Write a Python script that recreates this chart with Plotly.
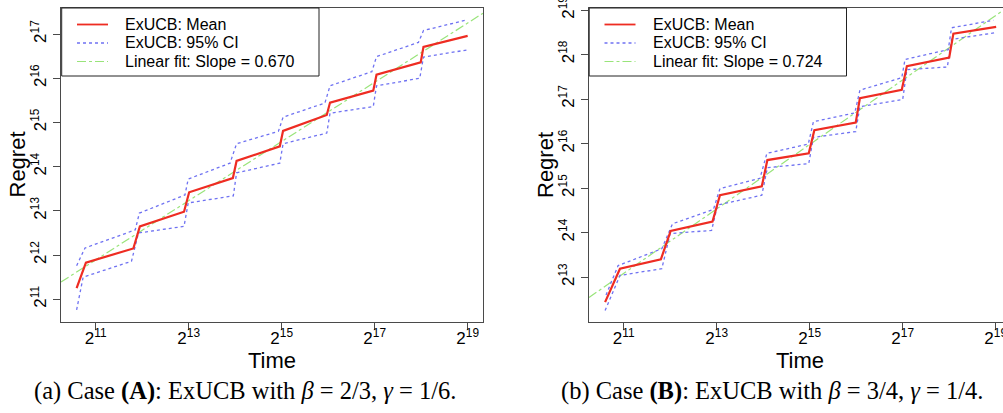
import numpy as np
import plotly.graph_objects as go

# ---------------- data (log2 of Time, log2 of Regret) ----------------
# Case (A): beta = 2/3, gamma = 1/6
a_t_mean = [10.59, 10.79, 11.81, 11.95, 12.90, 13.01, 13.95, 14.03, 14.96, 15.03, 15.97, 16.04, 16.97, 17.04, 17.99, 18.05, 19.00]
a_r_mean = [11.25, 11.83, 12.15, 12.65, 12.98, 13.42, 13.74, 14.13, 14.46, 14.81, 15.17, 15.45, 15.72, 16.08, 16.36, 16.71, 16.96]
a_t_up = [10.59, 10.77, 11.85, 11.94, 12.92, 12.99, 13.89, 14.03, 14.93, 15.03, 15.93, 16.04, 16.94, 17.04, 17.94, 18.05, 18.98]
a_r_up = [11.76, 12.16, 12.57, 12.95, 13.36, 13.72, 14.08, 14.52, 14.80, 15.12, 15.44, 15.83, 16.15, 16.49, 16.81, 17.08, 17.32]
a_t_lo = [10.59, 10.73, 11.77, 11.92, 12.90, 12.99, 13.96, 14.03, 14.96, 15.03, 15.97, 16.04, 16.97, 17.04, 17.97, 18.05, 18.98]
a_r_lo = [10.76, 11.50, 11.86, 12.50, 12.65, 13.18, 13.34, 13.86, 14.08, 14.52, 14.76, 15.21, 15.36, 15.83, 16.00, 16.48, 16.64]
a_slope, a_intercept = 0.670, 4.52

# Case (B): beta = 3/4, gamma = 1/4
b_t_mean = [10.60, 10.92, 11.80, 12.01, 12.91, 13.07, 13.97, 14.09, 14.98, 15.10, 15.99, 16.08, 16.98, 17.09, 18.00, 18.09, 19.01]
b_r_mean = [12.44, 13.19, 13.40, 14.04, 14.25, 14.84, 15.04, 15.63, 15.78, 16.30, 16.47, 17.02, 17.21, 17.74, 17.93, 18.47, 18.62]
b_t_up = [10.62, 10.88, 11.82, 12.05, 12.93, 13.07, 13.93, 14.08, 14.97, 15.08, 15.97, 16.08, 16.98, 17.05, 17.98, 18.05, 18.95]
b_r_up = [12.60, 13.26, 13.64, 14.20, 14.52, 14.99, 15.22, 15.78, 15.99, 16.49, 16.69, 17.20, 17.48, 17.89, 18.11, 18.60, 18.77]
b_t_lo = [10.60, 10.92, 11.82, 12.00, 12.89, 13.02, 13.97, 14.09, 14.98, 15.08, 15.99, 16.08, 17.00, 17.09, 17.96, 18.05, 18.99]
b_r_lo = [12.25, 13.04, 13.19, 13.98, 14.05, 14.62, 14.84, 15.46, 15.55, 16.14, 16.27, 16.83, 16.99, 17.66, 17.72, 18.34, 18.49]
b_slope, b_intercept = 0.724, 5.12

x_tick_exp = [11, 13, 15, 17, 19]
a_y_tick_exp = [11, 12, 13, 14, 15, 16, 17]
b_y_tick_exp = [13, 14, 15, 16, 17, 18, 19]

a_x_range = [10.254, 19.33]
a_y_range = [10.486, 17.59]
b_x_range = [10.254, 19.157]
b_y_range = [11.993, 19.045]

x_title, y_title = "Time", "Regret"
legend_names = ["ExUCB: Mean", "ExUCB: 95% CI", "Linear fit: Slope = {:.3f}"]
captions = [
    "(a) Case <b>(A)</b>: ExUCB with <i>β</i> = 2/3, <i>γ</i> = 1/6.",
    "(b) Case <b>(B)</b>: ExUCB with <i>β</i> = 3/4, <i>γ</i> = 1/4.",
]

RED = "#ee2c22"
BLUE = "#6f72f2"
GREEN = "#99e47a"
AXC = "#4a4a4a"
SANS = "Liberation Sans, Arial, Helvetica, sans-serif"
SERIF = "Liberation Serif, Times New Roman, serif"
LOG10_2 = np.log10(2.0)
W, H = 1003, 413

STYLES = [dict(color=RED, width=2.2), dict(color=BLUE, width=1.3, dash="dot"),
          dict(color=GREEN, width=1.2, dash="dashdot")]


def p2(v):
    return np.power(2.0, np.asarray(v, dtype=float))


fig = go.Figure()


def add_panel(xa, ya, t_mean, r_mean, t_up, r_up, t_lo, r_lo, slope, intercept, xr):
    fit_t = np.array(xr)
    fit_r = slope * fit_t + intercept
    fig.add_trace(go.Scatter(x=p2(fit_t), y=p2(fit_r), mode="lines", line=STYLES[2],
                             name=legend_names[2].format(slope), showlegend=False,
                             xaxis=xa, yaxis=ya))
    fig.add_trace(go.Scatter(x=p2(t_up), y=p2(r_up), mode="lines", line=STYLES[1],
                             name=legend_names[1], showlegend=False, xaxis=xa, yaxis=ya))
    fig.add_trace(go.Scatter(x=p2(t_lo), y=p2(r_lo), mode="lines", line=STYLES[1],
                             name=legend_names[1], showlegend=False, xaxis=xa, yaxis=ya))
    fig.add_trace(go.Scatter(x=p2(t_mean), y=p2(r_mean), mode="lines", line=STYLES[0],
                             name=legend_names[0], showlegend=False, xaxis=xa, yaxis=ya))


add_panel("x", "y", a_t_mean, a_r_mean, a_t_up, a_r_up, a_t_lo, a_r_lo,
          a_slope, a_intercept, a_x_range)
add_panel("x2", "y2", b_t_mean, b_r_mean, b_t_up, b_r_up, b_t_lo, b_r_lo,
          b_slope, b_intercept, b_x_range)

ytop = 1 - 8 / H
ybot = 1 - 322 / H


def xaxis(dom, rng, anchor):
    return dict(type="log", domain=dom, range=[r * LOG10_2 for r in rng], anchor=anchor,
                tickvals=list(p2(x_tick_exp)), ticktext=[f"2<sup>{e}</sup>" for e in x_tick_exp],
                ticks="outside", ticklen=7, tickcolor=AXC, showline=True, linecolor=AXC,
                linewidth=1, mirror=True, showgrid=False, zeroline=False, automargin=False,
                ticklabeloverflow="allow", ticklabelstandoff=-6,
                tickfont=dict(family=SANS, size=17, color="black"))


def yaxis(rng, exps, anchor, mirror):
    return dict(type="log", domain=[ybot, ytop], range=[r * LOG10_2 for r in rng], anchor=anchor,
                tickvals=list(p2(exps)), ticktext=[f"2<sup>{e}</sup>" for e in exps],
                tickangle=-90, ticks="outside", ticklen=7, tickcolor=AXC, showline=True,
                linecolor=AXC, linewidth=1, mirror=mirror, showgrid=False, zeroline=False,
                automargin=False, ticklabeloverflow="allow",
                tickfont=dict(family=SANS, size=17, color="black"))


shapes = []
annotations = []
# axis titles
for x0, x1, ylab_x in [(61, 483, 17.5), (589, 1011, 546)]:
    annotations.append(dict(text=x_title, x=(x0 + x1) / 2 / W, y=1 - 360 / H, xref="paper",
                            yref="paper", xanchor="center", yanchor="middle", showarrow=False,
                            font=dict(family=SANS, size=22, color="black")))
    annotations.append(dict(text=y_title, x=ylab_x / W, y=1 - 165 / H, xref="paper",
                            yref="paper", xanchor="center", yanchor="middle", showarrow=False,
                            textangle=-90, font=dict(family=SANS, size=22, color="black")))

# ---- legends (boxed keys, as in the R base-graphics legend) ----
for dx, slope in [(0.0, a_slope), (527.5, b_slope)]:
    shapes.append(dict(type="rect", xref="paper", yref="paper",
                       x0=(61.7 + dx) / W, x1=(319 + dx) / W, y0=1 - 76 / H, y1=1 - 8 / H,
                       line=dict(color="#222", width=1), fillcolor="white", layer="above"))
    for i, (py, name) in enumerate(zip([24.5, 43, 61.5], legend_names)):
        st = dict(STYLES[i])
        if i == 0:
            st["width"] = 1.8
        shapes.append(dict(type="line", xref="paper", yref="paper",
                           x0=(77 + dx) / W, x1=(108 + dx) / W, y0=1 - py / H, y1=1 - py / H,
                           line=st, layer="above"))
        annotations.append(dict(text=name.format(slope), x=(123 + dx) / W, y=1 - py / H,
                                xref="paper", yref="paper", xanchor="left", yanchor="middle",
                                showarrow=False, font=dict(family=SANS, size=16, color="black")))

for cx, cap in zip([245, 771.5], captions):
    annotations.append(dict(text=cap, x=cx / W, y=1 - 391 / H, xref="paper", yref="paper",
                            xanchor="center", yanchor="middle", showarrow=False,
                            font=dict(family=SERIF, size=24.5, color="black")))

fig.update_layout(
    width=W, height=H, autosize=False,
    margin=dict(l=0, r=0, t=0, b=0),
    paper_bgcolor="white", plot_bgcolor="white",
    showlegend=False,
    xaxis=xaxis([61 / W, 483 / W], a_x_range, "y"),
    yaxis=yaxis(a_y_range, a_y_tick_exp, "x", True),
    xaxis2=xaxis([589 / W, 1.0], b_x_range, "y2"),
    yaxis2=yaxis(b_y_range, b_y_tick_exp, "x2", False),
    shapes=shapes,
    annotations=annotations,
)

fig.write_html("out.html", config={"displayModeBar": False},
               post_script="document.body.style.margin='0px';document.body.style.overflow='hidden';")
